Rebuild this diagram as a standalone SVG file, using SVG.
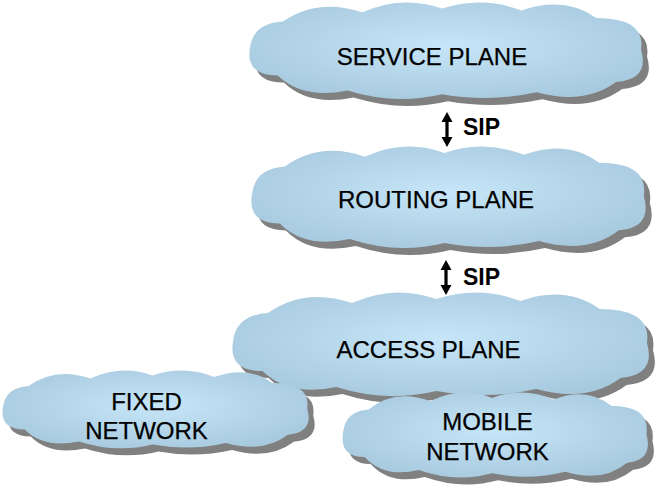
<svg xmlns="http://www.w3.org/2000/svg" xmlns:xlink="http://www.w3.org/1999/xlink" width="664" height="489" viewBox="0 0 664 489">
<defs>
<radialGradient id="cg" cx="0.5" cy="0.45" r="0.6">
<stop offset="0" stop-color="#c6e5f8"/>
<stop offset="1" stop-color="#a7c9de"/>
</radialGradient>
<path id="cloud" d="M2,48 Q5,22 35,20 Q70,-6 115,10 Q155,-9 195,6 Q235,-8 275,8 Q318,-8 350,16 Q400,16 395,50 Q404,82 370,85 Q338,110 290,96 Q243,107 195,98 Q148,110 100,94 Q55,104 30,78 Q-3,78 2,48 Z"/>
<path id="dblarrow" d="M0,0 L5.5,10 L1.6,10 L1.6,25 L5.5,25 L0,35 L-5.5,25 L-1.6,25 L-1.6,10 L-5.5,10 Z"/>
<style>
.shadow{fill:#808080;}
.body{fill:url(#cg);}
.lbl{font-family:"Liberation Sans",Arial,sans-serif;font-size:24px;fill:#000;stroke:#000;stroke-width:0.25;text-anchor:middle;}
.sip{font-family:"Liberation Sans",Arial,sans-serif;font-size:23px;font-weight:bold;fill:#000;}
.arr{fill:#000;}
</style>
</defs>
<rect width="664" height="489" fill="#fff"/>
<g id="service-plane" transform="translate(248,3)">
<use href="#cloud" class="shadow" transform="translate(6,7) scale(0.995,0.93)"/>
<use href="#cloud" class="body" transform="scale(0.995,0.93)"/>
<text class="lbl" x="184" y="62">SERVICE PLANE</text>
</g>
<g id="routing-plane" transform="translate(250,147)">
<use href="#cloud" class="shadow" transform="translate(6,7) scale(0.997,0.98)"/>
<use href="#cloud" class="body" transform="scale(0.997,0.98)"/>
<text class="lbl" x="186" y="61">ROUTING PLANE</text>
</g>
<g id="access-plane" transform="translate(231,293)">
<use href="#cloud" class="shadow" transform="translate(6,7) scale(1.053,1.0)"/>
<use href="#cloud" class="body" transform="scale(1.053,1.0)"/>
<text class="lbl" x="197.5" y="65">ACCESS PLANE</text>
</g>
<g id="fixed-network" transform="translate(1.5,371)">
<use href="#cloud" class="shadow" transform="translate(6,7) scale(0.774,0.75)"/>
<use href="#cloud" class="body" transform="scale(0.774,0.75)"/>
<text class="lbl" x="145" y="39">FIXED</text>
<text class="lbl" x="145" y="68">NETWORK</text>
</g>
<g id="mobile-network" transform="translate(341.5,393)">
<use href="#cloud" class="shadow" transform="translate(6,7) scale(0.772,0.82)"/>
<use href="#cloud" class="body" transform="scale(0.772,0.82)"/>
<text class="lbl" x="146" y="37">MOBILE</text>
<text class="lbl" x="146" y="67">NETWORK</text>
</g>
<g id="connectors">
<use href="#dblarrow" class="arr" transform="translate(447,112)"/>
<text class="sip" x="463" y="135">SIP</text>
<use href="#dblarrow" class="arr" transform="translate(446,260)"/>
<text class="sip" x="463" y="285">SIP</text>
</g>
</svg>
